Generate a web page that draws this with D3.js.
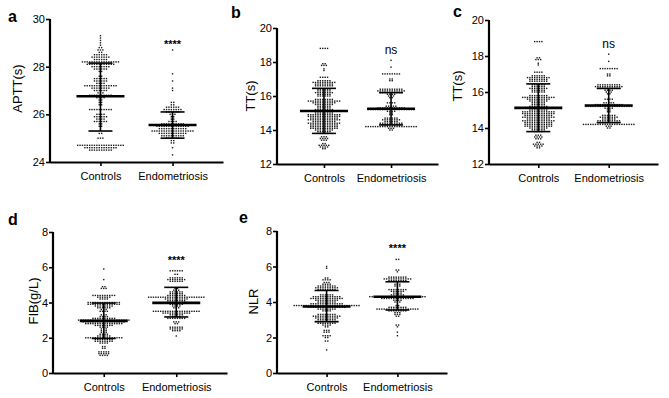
<!DOCTYPE html>
<html lang="en">
<head>
<meta charset="utf-8">
<title>Coagulation dot plots</title>
<script src="https://cdnjs.cloudflare.com/ajax/libs/d3/7.8.5/d3.min.js"></script>
<style>
  body { margin: 0; background: #fff; }
  svg text { font-family: "Liberation Sans", Arial, sans-serif; fill: #000; }
</style>
</head>
<body>
<svg id="chart" width="669" height="398"></svg>
<script>
const groups = ["Controls", "Endometriosis"];

// each row of dots: [value, number of dots at that value]
const apttControls = [[29.3,1],[29.2,1],[29.1,1],[29.0,1],[28.9,1],[28.8,2],[28.7,3],[28.6,2],[28.5,6],[28.4,8],
  [28.3,6],[28.2,16],[28.1,12],[28.0,8],[27.9,6],[27.8,2],[27.6,2],[27.5,6],[27.4,6],[27.3,4],[27.2,14],[27.1,8],
  [27.0,6],[26.9,3],[26.8,10],[26.7,4],[26.6,2],[26.5,2],[26.4,2],[26.2,10],[26.0,4],[25.9,6],[25.8,4],[25.7,6],
  [25.6,2],[25.5,2],[25.2,2],[25.0,3],[24.7,20],[24.6,14],[24.5,10]];
const apttEndo = [[28.7,1],[27.7,1],[27.4,1],[27.1,1],[27.0,1],[26.5,2],[26.4,2],[26.3,6],[26.2,8],[26.1,6],[26.0,3],
  [25.9,2],[25.8,2],[25.7,4],[25.6,10],[25.5,14],[25.4,12],[25.3,18],[25.2,12],[25.1,10],[25.0,6],[24.9,2],
  [24.8,2],[24.6,1],[24.3,1]];
const apttMean = [26.76, 25.55];
const apttSdLow = [25.3, 25.0];
const apttSdHigh = [28.15, 26.1];
const apttTicks = [24, 26, 28, 30];

const ttControls = [[18.8,4],[17.9,2],[17.8,3],[17.6,1],[17.5,1],[17.1,4],[16.9,6],[16.8,10],[16.7,8],[16.6,8],
  [16.4,6],[16.3,6],[16.2,8],[16.1,6],[16.0,6],[15.8,8],[15.7,14],[15.6,10],[15.5,8],[15.4,6],[15.3,6],[15.2,8],
  [15.1,10],[15.0,8],[14.9,14],[14.8,14],[14.7,12],[14.6,14],[14.5,10],[14.4,14],[14.3,12],[14.2,12],[14.1,12],
  [14.0,8],[13.9,6],[13.8,4],[13.6,3],[13.5,4],[13.4,3],[13.2,2],[13.1,5],[13.0,4],[12.9,2]];
const ttEndo = [[18.1,1],[17.7,1],[17.3,8],[17.0,2],[16.9,2],[16.4,10],[16.3,12],[16.2,10],[16.1,4],[16.0,3],
  [15.9,2],[15.6,4],[15.4,5],[15.3,12],[15.2,20],[15.1,4],[15.0,2],[14.9,2],[14.7,6],[14.6,8],[14.5,6],[14.4,10],
  [14.3,8],[14.2,22],[14.1,3],[14.0,2]];
const ttMean = [15.12, 15.25];
const ttSdLow = [13.8, 14.3];
const ttSdHigh = [16.45, 16.2];
const ttTicks = [12, 14, 16, 18, 20];

const fibControls = [[5.9,1],[5.3,1],[4.9,2],[4.8,3],[4.4,10],[4.3,6],[4.2,4],[4.0,14],[3.9,14],[3.8,8],[3.7,6],
  [3.6,3],[3.5,4],[3.3,3],[3.2,4],[3.1,10],[3.0,22],[2.9,18],[2.8,16],[2.7,8],[2.6,4],[2.5,3],[2.4,3],[2.3,3],
  [2.2,4],[2.1,6],[2.0,16],[1.9,8],[1.8,8],[1.7,4],[1.5,2],[1.4,2],[1.2,5],[1.1,5],[1.0,4]];
const fibEndo = [[5.8,6],[5.6,2],[5.4,6],[5.3,8],[5.2,6],[4.8,2],[4.7,3],[4.6,6],[4.5,6],[4.4,8],[4.3,24],[4.2,10],
  [4.1,8],[4.0,10],[3.9,6],[3.8,4],[3.7,3],[3.5,20],[3.4,12],[3.3,6],[3.2,4],[3.1,8],[2.9,3],[2.8,2],[2.6,6],
  [2.5,6],[2.4,4],[2.1,1]];
const fibMean = [2.96, 3.98];
const fibSdLow = [1.96, 3.18];
const fibSdHigh = [3.97, 4.86];
const fibTicks = [0, 2, 4, 6, 8];

const nlrControls = [[6.0,1],[5.9,1],[5.35,2],[5.25,4],[5.1,3],[5.0,4],[4.9,8],[4.8,10],[4.7,8],[4.4,6],[4.3,12],
  [4.2,14],[4.1,10],[4.0,8],[3.9,14],[3.8,28],[3.7,16],[3.6,8],[3.5,4],[3.3,8],[3.2,12],[3.1,10],[3.0,8],[2.9,10],
  [2.8,8],[2.7,4],[2.6,2],[2.4,3],[2.3,3],[2.1,4],[2.0,2],[1.8,2],[1.3,1]];
const nlrEndo = [[6.4,2],[5.8,2],[5.7,1],[5.4,8],[5.3,12],[5.2,8],[5.0,3],[4.9,3],[4.7,8],[4.6,6],[4.5,4],[4.4,6],
  [4.3,24],[4.2,14],[4.1,4],[4.0,3],[3.8,2],[3.7,8],[3.6,18],[3.5,8],[3.4,3],[3.3,3],[3.2,2],[2.7,2],[2.6,1],
  [2.3,1],[2.1,1]];
const nlrMean = [3.75, 4.3];
const nlrSdLow = [2.89, 3.55];
const nlrSdHigh = [4.65, 5.14];
const nlrTicks = [0, 2, 4, 6, 8];

const panels = [
  { letter: "a", title: "APTT(s)", rows: [apttControls, apttEndo], mean: apttMean, lo: apttSdLow, hi: apttSdHigh,
    ticks: apttTicks, sig: "****", x0: 50, x1: 223, yTop: 19, yBot: 162,
    letterPos: [8, 22], titlePos: [21.5, 88.5], sigY: 48 },
  { letter: "b", title: "TT(s)", rows: [ttControls, ttEndo], mean: ttMean, lo: ttSdLow, hi: ttSdHigh,
    ticks: ttTicks, sig: "ns", x0: 277, x1: 438, yTop: 28, yBot: 164,
    letterPos: [231, 18], titlePos: [255, 96], sigY: 54 },
  { letter: "c", title: "TT(s)", rows: [ttControls, ttEndo], mean: ttMean, lo: ttSdLow, hi: ttSdHigh,
    ticks: ttTicks, sig: "ns", x0: 489, x1: 658, yTop: 20, yBot: 164,
    letterPos: [453, 17], titlePos: [462, 86], sigY: 47.5 },
  { letter: "d", title: "FIB(g/L)", rows: [fibControls, fibEndo], mean: fibMean, lo: fibSdLow, hi: fibSdHigh,
    ticks: fibTicks, sig: "****", x0: 53, x1: 227, yTop: 232, yBot: 373,
    letterPos: [8, 225], titlePos: [37.5, 301], sigY: 264 },
  { letter: "e", title: "NLR", rows: [nlrControls, nlrEndo], mean: nlrMean, lo: nlrSdLow, hi: nlrSdHigh,
    ticks: nlrTicks, sig: "****", x0: 277, x1: 447, yTop: 231, yBot: 373,
    letterPos: [239, 223], titlePos: [258, 301.5], sigY: 252 }
];

const svg = d3.select("#chart");
const dotGap = 2.4;   // horizontal spacing between dots in a row
const fontFam = "'Liberation Sans', Arial, sans-serif";

panels.forEach(function(p) {
  const g = svg.append("g");
  const y = d3.scaleLinear().domain([p.ticks[0], p.ticks[p.ticks.length - 1]]).range([p.yBot, p.yTop]);
  const x = d3.scalePoint().domain(groups).range([p.x0, p.x1]).padding(0.7);

  // dots, row by row
  groups.forEach(function(grp, gi) {
    const dots = [];
    p.rows[gi].forEach(function(r) {
      for (let i = 0; i < r[1]; i++) {
        dots.push({ v: r[0], off: (i - (r[1] - 1) / 2) * dotGap });
      }
    });
    g.append("g").selectAll("rect")
      .data(dots)
      .enter()
      .append("rect")
      .attr("x", d => x(grp) + d.off - 0.7)
      .attr("y", d => y(d.v) - 0.7)
      .attr("width", 1.4)
      .attr("height", 1.4)
      .attr("fill", "#1a1a1a");

    // mean and SD bars
    const cx = x(grp);
    g.append("line").attr("x1", cx).attr("x2", cx)
      .attr("y1", y(p.lo[gi])).attr("y2", y(p.hi[gi]))
      .attr("stroke", "#000").attr("stroke-width", 1.6);
    [p.lo[gi], p.hi[gi]].forEach(function(v) {
      g.append("line").attr("x1", cx - 12).attr("x2", cx + 12)
        .attr("y1", y(v)).attr("y2", y(v))
        .attr("stroke", "#000").attr("stroke-width", 1.6);
    });
    g.append("line").attr("x1", cx - 24).attr("x2", cx + 24)
      .attr("y1", y(p.mean[gi])).attr("y2", y(p.mean[gi]))
      .attr("stroke", "#000").attr("stroke-width", 2.6);
  });

  // axes
  const yAxis = g.append("g")
    .attr("transform", "translate(" + p.x0 + ",0)")
    .call(d3.axisLeft(y).tickValues(p.ticks).tickFormat(d3.format("d"))
      .tickSize(4).tickSizeOuter(0).tickPadding(1));
  const xAxis = g.append("g")
    .attr("transform", "translate(0," + p.yBot + ")")
    .call(d3.axisBottom(x).tickSize(4).tickSizeOuter(0).tickPadding(6));
  [yAxis, xAxis].forEach(function(ax) {
    ax.select(".domain").attr("stroke", "#000").attr("stroke-width", 2.2);
    ax.selectAll(".tick line").attr("stroke", "#000").attr("stroke-width", 1.6);
    ax.selectAll(".tick text").attr("font-size", 11).attr("fill", "#000")
      .attr("font-family", fontFam);
  });
  // close the corner where the two axes meet
  yAxis.select(".domain").attr("d", "M0," + (p.yBot + 1.1) + "V" + p.yTop);

  // titles and labels
  g.append("text")
    .attr("transform", "translate(" + p.titlePos[0] + "," + p.titlePos[1] + ") rotate(-90)")
    .attr("text-anchor", "middle")
    .attr("font-size", 13).attr("fill", "#000")
    .text(p.title);
  g.append("text")
    .attr("x", p.letterPos[0]).attr("y", p.letterPos[1])
    .attr("font-size", 16).attr("font-weight", "bold").attr("fill", "#000")
    .text(p.letter);
  g.append("text")
    .attr("x", x(groups[1])).attr("y", p.sigY)
    .attr("text-anchor", "middle")
    .attr("font-size", p.sig === "ns" ? 12 : 11)
    .attr("font-weight", p.sig === "ns" ? "normal" : "bold")
    .attr("fill", "#000")
    .text(p.sig);
});
</script>
</body>
</html>
